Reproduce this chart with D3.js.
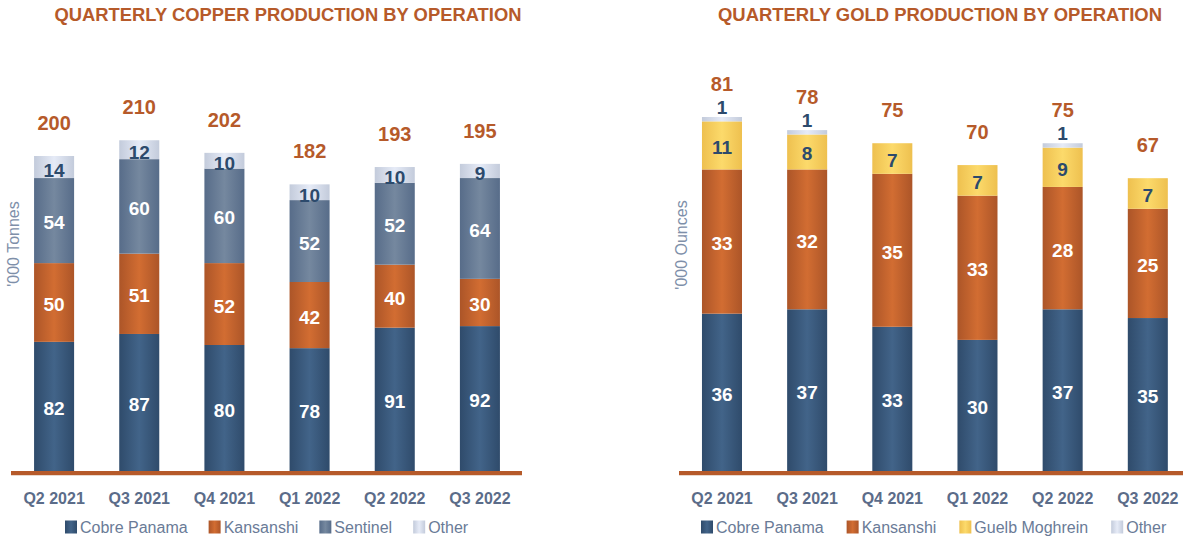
<!DOCTYPE html>
<html>
<head>
<meta charset="utf-8">
<script src="https://cdn.jsdelivr.net/npm/d3@7"></script>
<style>
  html, body { margin: 0; padding: 0; background: #ffffff; }
  svg { display: block; font-family: "Liberation Sans", Arial, Helvetica, sans-serif; }
</style>
</head>
<body>
<svg id="chart" width="1183" height="537"></svg>
<script>
// ---------- DATA ----------
const quarters = ["Q2 2021", "Q3 2021", "Q4 2021", "Q1 2022", "Q2 2022", "Q3 2022"];

const copperCobrePanama = [82, 87, 80, 78, 91, 92];
const copperKansanshi   = [50, 51, 52, 42, 40, 30];
const copperSentinel    = [54, 60, 60, 52, 52, 64];
const copperOther       = [14, 12, 10, 10, 10, 9];
const copperTotal       = [200, 210, 202, 182, 193, 195];

const goldCobrePanama = [36, 37, 33, 30, 37, 35];
const goldKansanshi   = [33, 32, 35, 33, 28, 25];
const goldGuelb       = [11, 8, 7, 7, 9, 7];
const goldOther       = [1, 1, 0, 0, 1, 0];
const goldTotal       = [81, 78, 75, 70, 75, 67];

const copperTitle = "QUARTERLY COPPER PRODUCTION BY OPERATION";
const goldTitle   = "QUARTERLY GOLD PRODUCTION BY OPERATION";
const copperAxisTitle = "'000 Tonnes";
const goldAxisTitle   = "'000 Ounces";

// ---------- STYLE ----------
const palette = {
  cobre:    { edge: "#2f4b6b", mid: "#426489", text: "#ffffff" },
  kansanshi:{ edge: "#ac5528", mid: "#d26d32", text: "#ffffff" },
  sentinel: { edge: "#576c89", mid: "#75889f", text: "#ffffff" },
  other:    { edge: "#c3cbdb", mid: "#e6ebf7", text: "#2c4a6c" },
  guelb:    { edge: "#eec04f", mid: "#fcda6b", text: "#2c4a6c" }
};
const orange = "#b65a2a";
const axisText = "#5b6c89";
const legendText = "#6a7b97";

const svg = d3.select("#chart");
const defs = svg.append("defs");
Object.entries(palette).forEach(([k, c]) => {
  const g = defs.append("linearGradient").attr("id", "grad-" + k)
    .attr("x1", "0%").attr("x2", "100%").attr("y1", "0%").attr("y2", "0%");
  g.append("stop").attr("offset", "0%").attr("stop-color", c.edge);
  g.append("stop").attr("offset", "50%").attr("stop-color", c.mid);
  g.append("stop").attr("offset", "100%").attr("stop-color", c.edge);
});

function drawChart(cfg) {
  const g = svg.append("g");
  const x = d3.scaleBand().domain(quarters).range(cfg.xRange).paddingInner(0.53).paddingOuter(0.265);
  const y = d3.scaleLinear().domain([0, cfg.refTotal]).range([cfg.baseY, cfg.refTop]);

  // title
  g.append("text").attr("x", cfg.titleX).attr("y", 21).attr("text-anchor", "middle")
    .attr("font-size", 18).attr("font-weight", "bold").attr("fill", orange)
    .attr("textLength", cfg.titleLen).attr("lengthAdjust", "spacingAndGlyphs")
    .text(cfg.title);

  // y axis title
  g.append("text").attr("transform", `translate(${cfg.axisTitleX},${cfg.axisTitleY}) rotate(-90)`)
    .attr("text-anchor", "middle").attr("dominant-baseline", "central")
    .attr("font-size", 16).attr("fill", "#7e8fa9").text(cfg.axisTitle);

  const stack = d3.stack().keys(cfg.series.map(s => s.key));
  const rows = quarters.map((q, i) => {
    const r = { q };
    cfg.series.forEach(s => r[s.key] = s.values[i]);
    return r;
  });
  const layers = stack(rows);

  // bars
  layers.forEach((layer, li) => {
    const s = cfg.series[li];
    g.selectAll(null).data(layer).enter().append("rect")
      .attr("x", d => x(d.data.q)).attr("width", x.bandwidth())
      .attr("y", d => y(d[1])).attr("height", d => y(d[0]) - y(d[1]))
      .attr("fill", `url(#grad-${s.key})`);
  });

  // value labels
  layers.forEach((layer, li) => {
    const s = cfg.series[li];
    const c = palette[s.key];
    g.selectAll(null).data(layer.filter(d => d[1] - d[0] > 0)).enter().append("text")
      .attr("x", d => x(d.data.q) + x.bandwidth() / 2)
      .attr("y", d => {
        const h = y(d[0]) - y(d[1]);
        if (h < 10) return y(d[1]) - 10;
        if (h < 25) return (y(d[0]) + y(d[1])) / 2 + 3;
        return (y(d[0]) + y(d[1])) / 2 + 2;
      })
      .attr("text-anchor", "middle").attr("dominant-baseline", "central")
      .attr("font-size", 19).attr("font-weight", "bold")
      .attr("fill", d => (y(d[0]) - y(d[1]) < 10) ? "#2c4a6c" : c.text)
      .text(d => d[1] - d[0]);
  });

  // totals
  g.selectAll(null).data(quarters).enter().append("text")
    .attr("x", q => x(q) + x.bandwidth() / 2)
    .attr("y", (q, i) => y(cfg.totals[i]) - 33)
    .attr("text-anchor", "middle").attr("dominant-baseline", "central")
    .attr("font-size", 20).attr("font-weight", "bold").attr("fill", orange)
    .text((q, i) => cfg.totals[i]);

  // baseline
  g.append("rect").attr("x", cfg.lineX[0]).attr("y", cfg.baseY)
    .attr("width", cfg.lineX[1] - cfg.lineX[0]).attr("height", 4).attr("fill", orange);
  g.append("rect").attr("x", cfg.lineX[0]).attr("y", cfg.baseY + 4)
    .attr("width", cfg.lineX[1] - cfg.lineX[0]).attr("height", 1).attr("fill", "#ead8cc");

  // x axis
  const ax = g.append("g").attr("transform", `translate(0,${cfg.baseY + 22})`)
    .call(d3.axisBottom(x).tickSize(0).tickPadding(0));
  ax.select(".domain").remove();
  ax.selectAll("text").attr("font-size", 16).attr("font-weight", "bold")
    .attr("fill", axisText).attr("font-family", "Liberation Sans, Arial, sans-serif")
    .attr("dy", "0.71em");

  // legend
  let lx = cfg.legendX;
  const ly = 527;
  cfg.series.forEach(s => {
    const item = g.append("g");
    item.append("rect").attr("x", lx).attr("y", ly - 6.5).attr("width", 12).attr("height", 13)
      .attr("fill", `url(#grad-${s.key})`);
    const t = item.append("text").attr("x", lx + 15).attr("y", ly)
      .attr("dominant-baseline", "central").attr("font-size", 16)
      .attr("fill", legendText).text(s.label);
    lx += 15 + t.node().getComputedTextLength() + cfg.legendGap;
  });
}

drawChart({
  title: copperTitle, titleX: 288, titleLen: 467,
  axisTitle: copperAxisTitle, axisTitleX: 13, axisTitleY: 244,
  xRange: [11.5, 522.5], baseY: 471, refTotal: 200, refTop: 156,
  lineX: [11, 522], legendX: 65, legendGap: 21, totals: copperTotal,
  series: [
    { key: "cobre", label: "Cobre Panama", values: copperCobrePanama },
    { key: "kansanshi", label: "Kansanshi", values: copperKansanshi },
    { key: "sentinel", label: "Sentinel", values: copperSentinel },
    { key: "other", label: "Other", values: copperOther }
  ]
});

drawChart({
  title: goldTitle, titleX: 940, titleLen: 444,
  axisTitle: goldAxisTitle, axisTitleX: 681, axisTitleY: 245,
  xRange: [679.4, 1190.4], baseY: 471, refTotal: 81, refTop: 117,
  lineX: [679, 1183], legendX: 701, legendGap: 23, totals: goldTotal,
  series: [
    { key: "cobre", label: "Cobre Panama", values: goldCobrePanama },
    { key: "kansanshi", label: "Kansanshi", values: goldKansanshi },
    { key: "guelb", label: "Guelb Moghrein", values: goldGuelb },
    { key: "other", label: "Other", values: goldOther }
  ]
});
</script>
</body>
</html>
